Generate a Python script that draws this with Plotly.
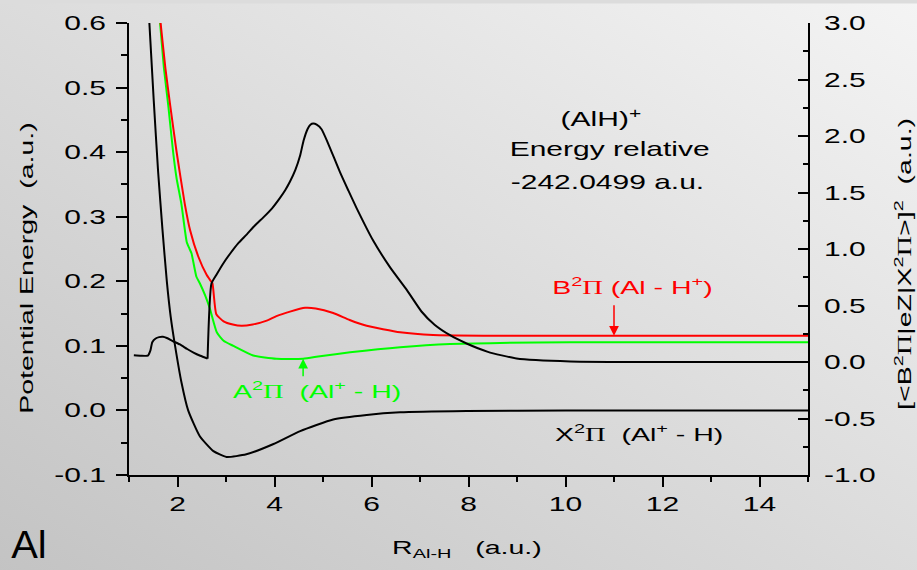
import base64
import plotly.graph_objects as go

# ---------------- data ----------------
# X^2Pi (Al+ - H) potential, left axis
x_X = [1.40, 1.42, 1.51, 1.60, 1.69, 1.78, 1.86, 1.95, 2.08, 2.22, 2.46, 2.74, 3.01,
       3.42, 3.98, 4.53, 5.21, 5.90, 6.59, 7.96, 10.0, 15.0]
y_X = [0.625, 0.600, 0.480, 0.370, 0.280, 0.200, 0.145, 0.100, 0.044, 0.000, -0.040,
       -0.063, -0.072, -0.068, -0.052, -0.032, -0.014, -0.007, -0.003, -0.001, 0.0, 0.0]

# A^2Pi (Al+ - H) potential, left axis
x_A = [1.60, 1.64, 1.72, 1.81, 1.91, 1.98, 2.08, 2.19, 2.25, 2.29, 2.39, 2.46, 2.57,
       2.67, 2.81, 2.95, 3.15, 3.56, 4.04, 4.59, 4.94, 5.56, 6.59, 7.62, 8.65, 10.1, 15.0]
y_A = [0.632, 0.601, 0.530, 0.472, 0.400, 0.360, 0.320, 0.261, 0.250, 0.243, 0.207,
       0.197, 0.178, 0.157, 0.121, 0.108, 0.100, 0.085, 0.080, 0.080, 0.084, 0.090,
       0.098, 0.103, 0.1045, 0.1055, 0.1055]

# B^2Pi (Al - H+) potential, left axis
x_B = [1.60, 1.65, 1.75, 1.85, 1.98, 2.15, 2.26, 2.43, 2.60, 2.68, 2.72, 2.80, 2.95,
       3.14, 3.32, 3.55, 3.84, 4.04, 4.32, 4.63, 4.85, 5.21, 5.55, 5.90, 6.59, 7.27,
       8.30, 10.0, 15.0]
y_B = [0.636, 0.601, 0.530, 0.472, 0.401, 0.320, 0.279, 0.238, 0.210, 0.201, 0.197,
       0.149, 0.138, 0.133, 0.131, 0.133, 0.139, 0.146, 0.153, 0.159, 0.158, 0.151,
       0.140, 0.131, 0.121, 0.1167, 0.1157, 0.1156, 0.1156]

# squared transition dipole moment, right axis (short-range part, before the jump)
x_D1 = [1.10, 1.25, 1.39, 1.44, 1.48, 1.55, 1.62, 1.70, 1.78, 1.90, 2.05, 2.20, 2.33,
        2.47, 2.62]
y_D1 = [0.059, 0.055, 0.057, 0.100, 0.175, 0.208, 0.220, 0.223, 0.212, 0.185, 0.155,
        0.115, 0.083, 0.055, 0.030]
# squared transition dipole moment, right axis (from the jump outwards)
x_D2 = [2.62, 2.70, 2.80, 2.94, 3.08, 3.25, 3.43, 3.60, 3.77, 3.95, 4.11, 4.22,
        4.32, 4.43, 4.53, 4.60, 4.68, 4.74, 4.80, 4.87, 4.97, 5.10, 5.35, 5.52, 5.69,
        6.04, 6.38, 6.73, 7.03, 7.30, 7.62, 7.96, 8.40, 8.99, 10.1, 12.0, 15.0]
y_D2 = [0.030, 0.694, 0.770, 0.870, 0.956, 1.050, 1.130, 1.210, 1.280, 1.360, 1.450,
        1.520, 1.597, 1.700, 1.830, 1.960, 2.060, 2.100, 2.110, 2.100, 2.060, 1.940,
        1.680, 1.520, 1.364, 1.070, 0.840, 0.636, 0.447, 0.330, 0.237, 0.164, 0.090,
        0.031, 0.005, 0.0, 0.0]

# tick labels
x_tickvals = [2, 4, 6, 8, 10, 12, 14]
x_ticktext = ["2", "4", "6", "8", "10", "12", "14"]
x_minor = [1, 3, 5, 7, 9, 11, 13, 15]
y_tickvals = [-0.1, 0.0, 0.1, 0.2, 0.3, 0.4, 0.5, 0.6]
y_ticktext = ["-0.1", "0.0", "0.1", "0.2", "0.3", "0.4", "0.5", "0.6"]
y_minor = [-0.05, 0.05, 0.15, 0.25, 0.35, 0.45, 0.55]
y2_tickvals = [-1.0, -0.5, 0.0, 0.5, 1.0, 1.5, 2.0, 2.5, 3.0]
y2_ticktext = ["-1.0", "-0.5", "0.0", "0.5", "1.0", "1.5", "2.0", "2.5", "3.0"]
y2_minor = [-0.75, -0.25, 0.25, 0.75, 1.25, 1.75, 2.25, 2.75]

# arrow targets
arrow_B = (11.0, 0.1156)
arrow_A = (4.59, 0.080)

# ---------------- layout geometry ----------------
W, H = 917, 570
ML, MR, MT, MB = 129, 109, 16, 95
PW, PH = W - ML - MR, H - MT - MB


def px(xp):
    return (xp - ML) / PW


def py(yp):
    return (H - MB - yp) / PH


FONT = "Liberation Sans, Arial, sans-serif"
PI = '<span style="font-family:Liberation Serif">Π</span>'
NB = "\u00a0"

fig = go.Figure()
fig.add_trace(go.Scatter(x=x_X, y=y_X, mode="lines", yaxis="y",
                         line=dict(color="#000000", width=2, shape="spline", smoothing=0.5)))
fig.add_trace(go.Scatter(x=x_D1, y=y_D1, mode="lines", yaxis="y2",
                         line=dict(color="#000000", width=2, shape="spline", smoothing=0.5)))
fig.add_trace(go.Scatter(x=x_D2, y=y_D2, mode="lines", yaxis="y2",
                         line=dict(color="#000000", width=2, shape="spline", smoothing=0.5)))
fig.add_trace(go.Scatter(x=x_A, y=y_A, mode="lines", yaxis="y",
                         line=dict(color="#00ff00", width=2, shape="spline", smoothing=0.5)))
fig.add_trace(go.Scatter(x=x_B, y=y_B, mode="lines", yaxis="y",
                         line=dict(color="#ff0000", width=2, shape="spline", smoothing=0.5)))

bg_svg = ('<svg xmlns="http://www.w3.org/2000/svg" width="917" height="570">'
          '<defs><linearGradient id="g" x1="1" y1="0" x2="0" y2="1">'
          '<stop offset="0" stop-color="#f4f4f4"/><stop offset="1" stop-color="#c3c3c3"/>'
          '</linearGradient></defs><rect width="917" height="570" fill="url(#g)"/></svg>')
bg_src = "data:image/svg+xml;base64," + base64.b64encode(bg_svg.encode()).decode()


def ann(text, xp, yp, size=20, color="#000000", angle=0, yanchor="middle"):
    return dict(text=text, x=px(xp), y=py(yp), xref="paper", yref="paper",
                xanchor="center", yanchor=yanchor, showarrow=False, textangle=angle,
                font=dict(family=FONT, size=size, color=color))


annotations = [
    ann("Al", 29, 569, size=38, yanchor="bottom"),
    ann("(AlH)<sup>+</sup>", 601, 112),
    ann("Energy relative", 609, 144),
    ann("-242.0499 a.u.", 607, 177),
    ann("B<sup>2</sup>" + PI + " (Al - H<sup>+</sup>)", 632, 283, size=19, color="#ff0000"),
    ann("A<sup>2</sup>" + PI + NB + NB + "(Al<sup>+</sup> - H)", 317, 389, size=19, color="#00ff00"),
    ann("X<sup>2</sup>" + PI + NB + NB + "(Al<sup>+</sup> - H)", 639, 432, size=19),
    ann("R<sub>Al-H</sub>" + NB + NB + NB + "(a.u.)", 467, 550, size=19),
    ann("Potential Energy" + NB + NB + "(a.u.)", 26, 265, size=19, angle=-90),
    ann("[&lt;B<sup>2</sup>" + PI + "|eZ|X<sup>2</sup>" + PI + "&gt;]<sup>2</sup>" + NB + NB + "(a.u.)",
        903, 261, size=19, angle=-90),
    dict(text="", x=arrow_B[0], y=arrow_B[1], xref="x", yref="y", showarrow=True,
         ax=0, ay=-32, arrowhead=2, arrowsize=1.3, arrowwidth=1.5, arrowcolor="#ff0000"),
    dict(text="", x=arrow_A[0], y=arrow_A[1], xref="x", yref="y", showarrow=True,
         ax=0, ay=19, arrowhead=2, arrowsize=1.3, arrowwidth=1.5, arrowcolor="#00ff00"),
]

tickfont = dict(family=FONT, size=20, color="#000000")

fig.update_layout(
    width=W, height=H,
    margin=dict(l=ML, r=MR, t=MT, b=MB, pad=0),
    paper_bgcolor="#dcdcdc",
    plot_bgcolor="rgba(0,0,0,0)",
    showlegend=False,
    font=dict(family=FONT, color="#000000"),
    images=[dict(source=bg_src, xref="paper", yref="paper", x=-(ML + 4) / PW,
                 y=1 + (MT + 4) / PH, sizex=(W + 8) / PW, sizey=(H + 8) / PH,
                 sizing="stretch", xanchor="left", yanchor="top", layer="below")],
    xaxis=dict(range=[1, 15], showgrid=False, zeroline=False, showline=True,
               linecolor="#000000", linewidth=2, ticks="outside", ticklen=10,
               tickwidth=2, tickcolor="#000000", tickmode="array",
               tickvals=x_tickvals, ticktext=x_ticktext, tickfont=tickfont,
               ticklabelstandoff=0,
               minor=dict(tickmode="array", tickvals=x_minor, ticks="outside",
                          ticklen=5, tickwidth=2, tickcolor="#000000")),
    yaxis=dict(range=[-0.1, 0.6], showgrid=False, zeroline=False, showline=True,
               linecolor="#000000", linewidth=2, ticks="outside", ticklen=11,
               tickwidth=2, tickcolor="#000000", tickmode="array",
               tickvals=y_tickvals, ticktext=y_ticktext, tickfont=tickfont,
               ticklabelstandoff=6,
               minor=dict(tickmode="array", tickvals=y_minor, ticks="outside",
                          ticklen=6, tickwidth=2, tickcolor="#000000")),
    yaxis2=dict(range=[-1.0, 3.0], overlaying="y", side="right", showgrid=False,
                zeroline=False, showline=True, linecolor="#000000", linewidth=2,
                ticks="inside", ticklen=10, tickwidth=2, tickcolor="#000000",
                tickmode="array", tickvals=y2_tickvals, ticktext=y2_ticktext,
                tickfont=tickfont, ticklabelstandoff=10,
                minor=dict(tickmode="array", tickvals=y2_minor, ticks="inside",
                           ticklen=5, tickwidth=2, tickcolor="#000000")),
    annotations=annotations,
)

# the reference's lettering is horizontally stretched; mimic it with a CSS scaleX
css = ("body{margin:0;overflow:hidden;}"
       "g.xtick,g.ytick,g.y2tick{transform-box:fill-box;transform:scaleX(1.5);}"
       "g.ytick{transform-origin:100% 50%;}"
       "g.y2tick{transform-origin:0% 50%;}"
       "g.xtick{transform-origin:50% 50%;}"
       ".annotation-text{transform-box:fill-box;transform-origin:50% 50%;transform:scaleX(1.5);}"
       '.annotation[data-index="0"] .annotation-text{transform:scaleX(1.05);}')
post = ("var s=document.createElement('style');s.textContent='" + css.replace("'", "\\'") +
        "';document.head.appendChild(s);")

fig.write_html("out.html", post_script=post, config={"displayModeBar": False})
